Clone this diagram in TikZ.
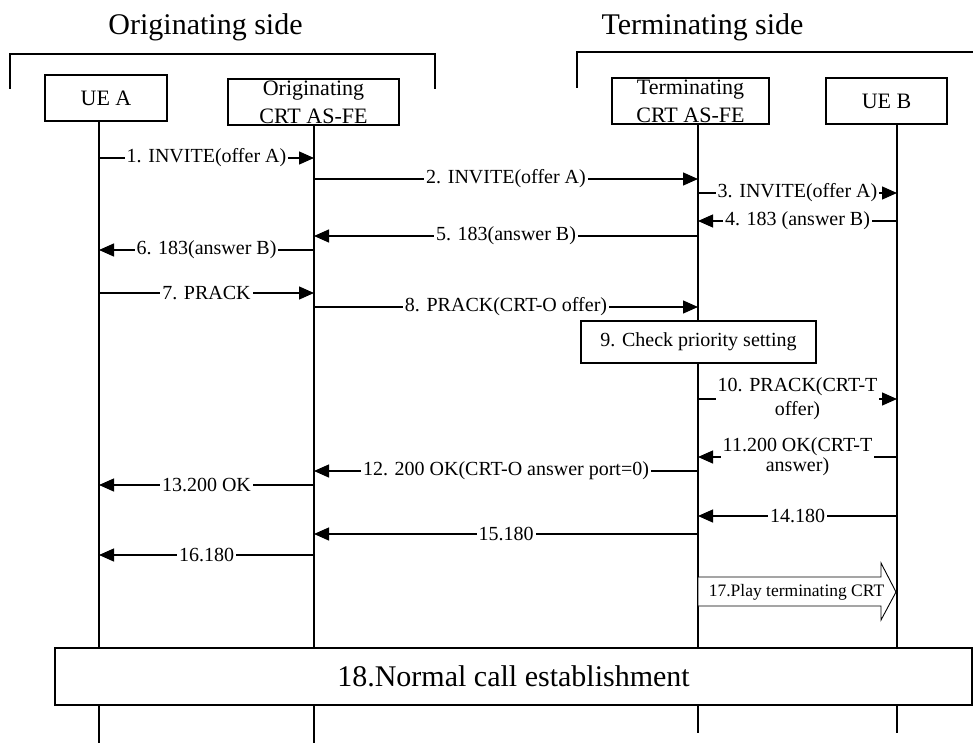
\documentclass[tikz,border=0pt]{standalone}
\usepackage{fontspec}
\setmainfont{Liberation Serif}
\usetikzlibrary{arrows.meta}
\begin{document}
\begin{tikzpicture}[x=1pt,y=-1pt,
  ln/.style={line width=1.3pt},
  titletxt/.style={font=\fontsize{30}{34}\selectfont, inner sep=0pt, anchor=base},
  actor/.style={draw, line width=1.3pt, fill=white, inner sep=0pt},
  actortxt/.style={font=\fontsize{22}{28}\selectfont, align=center, inner sep=0pt},
  msg/.style={line width=1.3pt, -{Triangle[length=15pt,width=13pt]}},
  lbl/.style={fill=white, inner xsep=2pt, inner ysep=0.5pt, font=\fontsize{20}{24}\selectfont, align=center},
  lbltight/.style={fill=white, inner xsep=2pt, inner ysep=0.5pt, font=\fontsize{20}{20}\selectfont, align=center},
  actbox/.style={draw, fill=white, line width=1.3pt, inner sep=0pt}
]
\useasboundingbox (0,0) rectangle (973,743);

% side brackets
\coordinate (ob1) at (10,89);
\coordinate (ob2) at (10,54);
\coordinate (ob3) at (435,54);
\coordinate (ob4) at (435,89);
\draw[ln] (ob1) -- (ob2) -- (ob3) -- (ob4);
\coordinate (tb1) at (577,88);
\coordinate (tb2) at (577,52);
\coordinate (tb3) at (980,52);
\draw[ln] (tb1) -- (tb2) -- (tb3);

\node[titletxt] (otitle) at (205.5,35) {Originating side};
\node[titletxt] (ttitle) at (702.5,35) {Terminating side};

% lifelines
\coordinate (la) at (99,121);  \coordinate (laE) at (99,745);
\coordinate (lo) at (314,125); \coordinate (loE) at (314,745);
\coordinate (lt) at (698,124); \coordinate (ltE) at (698,733);
\coordinate (lb) at (897,124); \coordinate (lbE) at (897,733);
\draw[ln] (la) -- (laE);
\draw[ln] (lo) -- (loE);
\draw[ln] (lt) -- (ltE);
\draw[ln] (lb) -- (lbE);

% actors
\node[actor, minimum width=122pt, minimum height=46pt] (uea) at (106,98) {};
\node[actortxt] (ueatxt) at (uea.center) {UE A};
\node[actor, minimum width=171pt, minimum height=46pt] (ocrt) at (313.5,102) {};
\node[actortxt] (ocrttxt) at (ocrt.center) {Originating\\CRT AS-FE};
\node[actor, minimum width=157pt, minimum height=46pt] (tcrt) at (690.5,101) {};
\node[actortxt] (tcrttxt) at (tcrt.center) {Terminating\\CRT AS-FE};
\node[actor, minimum width=121pt, minimum height=46pt] (ueb) at (886.5,101) {};
\node[actortxt] (uebtxt) at (ueb.center) {UE B};

% messages
\draw[msg] (la |- 0,158) -- node[lbl] (m1) {1. INVITE(offer A)} (lo |- 0,158);
\draw[msg] (lo |- 0,179) -- node[lbl] (m2) {2. INVITE(offer A)} (lt |- 0,179);
\draw[msg] (lt |- 0,193) -- node[lbl] (m3) {3. INVITE(offer A)} (lb |- 0,193);
\draw[msg] (lb |- 0,221) -- node[lbl] (m4) {4. 183 (answer B)} (lt |- 0,221);
\draw[msg] (lt |- 0,236) -- node[lbl] (m5) {5. 183(answer B)} (lo |- 0,236);
\draw[msg] (lo |- 0,250) -- node[lbl] (m6) {6. 183(answer B)} (la |- 0,250);
\draw[msg] (la |- 0,293) -- node[lbl] (m7) {7. PRACK} (lo |- 0,293);
\draw[msg] (lo |- 0,307) -- node[lbl] (m8) {8. PRACK(CRT-O offer)} (lt |- 0,307);

\node[actbox, minimum width=235pt, minimum height=42pt, font=\fontsize{20}{24}\selectfont] (chk) at (698.5,342) {9. Check priority setting};

\draw[msg] (lt |- 0,399) -- node[lbl] (m10) {10. PRACK(CRT-T\\offer)} (lb |- 0,399);
\draw[msg] (lb |- 0,457) -- node[lbltight] (m11) {11.200 OK(CRT-T\\answer)} (lt |- 0,457);
\draw[msg] (lt |- 0,471) -- node[lbl] (m12) {12. 200 OK(CRT-O answer port=0)} (lo |- 0,471);
\draw[msg] (lo |- 0,485) -- node[lbl] (m13) {13.200 OK} (la |- 0,485);
\draw[msg] (lb |- 0,516) -- node[lbl] (m14) {14.180} (lt |- 0,516);
\draw[msg] (lt |- 0,534) -- node[lbl] (m15) {15.180} (lo |- 0,534);
\draw[msg] (lo |- 0,555) -- node[lbl] (m16) {16.180} (la |- 0,555);

% play CRT block arrow
\draw[line width=0.9pt, fill=white] (698,577) -- (881,577) -- (881,563) -- (896,592) -- (881,620) -- (881,606) -- (698,606) -- cycle;
\node[font=\fontsize{17.5}{20}\selectfont, inner sep=0pt] (play) at (796.5,592) {17.Play terminating CRT};

% normal call establishment
\node[actbox, minimum width=917pt, minimum height=57pt, font=\fontsize{30}{34}\selectfont] (nce) at (513.5,676.5) {18.Normal call establishment};
\end{tikzpicture}
\end{document}
